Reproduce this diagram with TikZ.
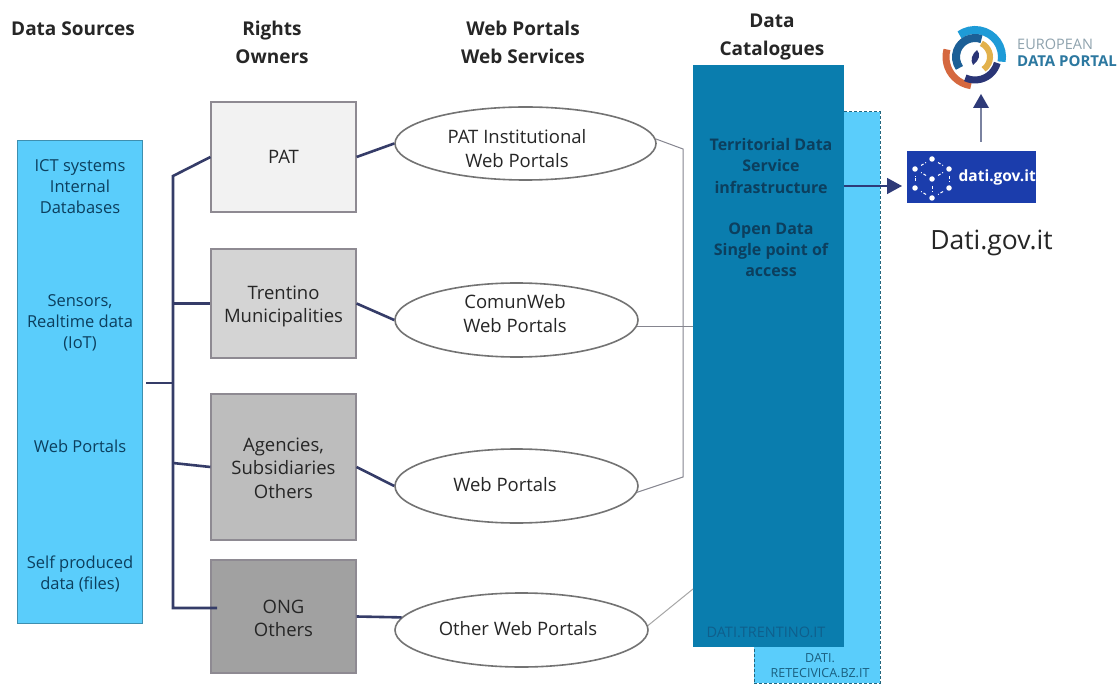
\documentclass[tikz,border=0pt]{standalone}
\usepackage{fontspec}
\setmainfont{Open Sans}
\usetikzlibrary{shapes.geometric,arrows.meta}
\definecolor{bus}{HTML}{353C68}
\definecolor{lightb}{HTML}{5ACDFB}
\definecolor{lightbd}{HTML}{3E8FAF}
\definecolor{dashc}{HTML}{22677F}
\definecolor{deepb}{HTML}{0A7DAE}
\definecolor{txtb}{HTML}{0C3F5E}
\definecolor{txtc}{HTML}{0F5F8C}
\definecolor{txtl}{HTML}{1A5F80}
\definecolor{txtd}{HTML}{262626}
\definecolor{thin}{HTML}{85858F}
\definecolor{arrowc}{HTML}{2E3A78}
\definecolor{arrowg}{HTML}{7A82A0}
\definecolor{oa}{HTML}{F2F2F2}
\definecolor{ob}{HTML}{D4D4D4}
\definecolor{oc}{HTML}{BDBDBD}
\definecolor{od}{HTML}{A1A1A1}
\definecolor{oedge}{HTML}{8E8A92}
\definecolor{ringa}{HTML}{1E9BD7}
\definecolor{ringb}{HTML}{D5683F}
\definecolor{ringc}{HTML}{1C5F96}
\definecolor{ringd}{HTML}{E2B14C}
\definecolor{ringe}{HTML}{2A3576}
\definecolor{datib}{HTML}{1B3DAC}
\definecolor{lgi}{HTML}{8FA3AE}
\definecolor{lgj}{HTML}{2C78A0}
\newcommand{\fs}[2]{\fontsize{#1}{#2}\selectfont}
\newcommand{\logoarc}[5]{\draw[#1,line width=#2pt] ({975+#3*cos(#4)},{57-#3*sin(#4)}) arc[start angle=#4,end angle=#5,radius=#3pt];}
\tikzset{
 head/.style={font=\fs{19}{28}\bfseries,text=txtd,align=center,inner sep=0pt},
 owner/.style={draw=oedge,line width=1.2pt,minimum width=145pt,anchor=center,inner sep=0pt,align=center,font=\fs{18.5}{23.5},text=txtd,fill=#1},
 ownertext/.style={font=\fs{18.5}{23.5},text=txtd,align=center,inner sep=0pt},
 portal/.style={ellipse,draw=black!55,line width=1.6pt,fill=white,inner sep=0pt},
 ptext/.style={font=\fs{18.5}{24},text=txtd,align=center,inner sep=0pt},
 srctext/.style={font=\fs{16.5}{21},text=txtb,align=center,inner sep=0pt},
 cattext/.style={text=txtb,align=center,inner sep=0pt},
 busline/.style={draw=bus,line width=2.6pt},
 thinline/.style={draw=thin,line width=1pt},
 dot/.style={circle,fill=white,inner sep=0pt,minimum size=5.5pt},
 arrowline/.style={draw=arrowc,line width=1.4pt},
}
\begin{document}
\begin{tikzpicture}[x=1pt,y=-1pt,line join=miter]
\useasboundingbox (0,0) rectangle (1118,684);
\fill[white] (0,0) rectangle (1118,684);
% headers
\node[head] (h1) at (73,29) {Data Sources};
\node[head] (h2) at (272,42) {Rights\\Owners};
\node[head] (h3) at (523,42) {Web Portals\\Web Services};
\node[head] (h4) at (772,37) {Data\\Catalogues};
% source box
\node[draw=lightbd,line width=1pt,fill=lightb,minimum width=125pt,minimum height=482pt,inner sep=0pt] (src) at (79.5,382) {};
\node[srctext] (s1) at (80,187) {ICT systems\\Internal\\Databases};
\node[srctext] (s2) at (80,323) {Sensors,\\Realtime data\\(IoT)};
\node[srctext] (s3) at (80,446) {Web Portals};
\node[srctext] (s4) at (80,574) {Self produced\\data (files)};
% owners
\node[owner=oa,minimum height=110pt] (o1) at (283.5,157) {PAT};
\node[owner=ob,minimum height=109pt] (o2) at (283.5,303.5) {};
\node[owner=oc,minimum height=146pt] (o3) at (283.5,467) {};
\node[owner=od,minimum height=113pt] (o4) at (283.5,616.5) {};
\node[ownertext] (ot2) at (283.5,306.5) {Trentino\\Municipalities};
\node[ownertext] (ot3) at (283.5,468) {Agencies,\\Subsidiaries\\Others};
\node[ownertext] (ot4) at (283.5,618.5) {ONG\\Others};
% portals
\node[portal,minimum width=261pt,minimum height=73pt] (e1) at (525.5,143.5) {};
\node[portal,minimum width=243pt,minimum height=74pt] (e2) at (516.5,320) {};
\node[portal,minimum width=243pt,minimum height=74pt] (e3) at (516.5,486) {};
\node[portal,minimum width=253pt,minimum height=74pt] (e4) at (521.5,630) {};
\node[ptext] (t1) at (517,149) {PAT Institutional\\Web Portals};
\node[ptext] (t2) at (515,314) {ComunWeb\\Web Portals};
\node[ptext] (t3) at (505,485) {Web Portals};
\node[ptext] (t4) at (518,629) {Other Web Portals};
% catalogue boxes
\node[draw=dashc,line width=1pt,dash pattern=on 3pt off 2pt,fill=lightb,minimum width=126pt,minimum height=571pt,inner sep=0pt] (back) at (817,397.5) {};
\node[fill=deepb,minimum width=151pt,minimum height=582pt,inner sep=0pt] (cat) at (768.5,356) {};
\node[cattext,font=\fs{16}{21.5}\bfseries] (c1) at (771,166) {Territorial Data\\Service\\infrastructure};
\node[cattext,font=\fs{16}{21}\bfseries] (c2) at (771,250) {Open Data\\Single point of\\access};
\node[font=\fs{14.5}{15},text=txtc,inner sep=0pt] (c3) at (766,632) {DATI.TRENTINO.IT};
\node[font=\fs{12.5}{15},text=txtl,align=center,inner sep=0pt] (c4) at (820,666) {DATI.\\RETECIVICA.BZ.IT};
% dati.gov.it
\node[fill=datib,minimum width=129pt,minimum height=52pt,inner sep=0pt] (dati) at (971.5,177) {};
\node[font=\fs{15.5}{16}\bfseries,text=white,inner sep=0pt,anchor=east] (datit) at (1036,177) {dati.gov.it};
\node[dot] (d0) at (932,179) {};
\node[dot] (d1) at (932,159) {};
\node[dot] (d2) at (949,169) {};
\node[dot] (d3) at (949,188) {};
\node[dot] (d4) at (932,198) {};
\node[dot] (d5) at (915,188) {};
\node[dot] (d6) at (915,169) {};
\foreach \a/\b in {d1/d2,d2/d3,d3/d4,d4/d5,d5/d6,d6/d1,d0/d2,d0/d4,d0/d6}
  \draw[white,line width=1pt,dash pattern=on 3pt off 2pt,shorten >=4pt,shorten <=4pt] (\a) -- (\b);
\node[font=\fs{26.5}{27},text=txtd,inner sep=0pt] (gov) at (991.5,243) {Dati.gov.it};
% logo
\logoarc{ringa}{8}{27}{-10}{125}
\logoarc{ringb}{7}{29}{165}{262}
\logoarc{ringc}{8}{19}{70}{215}
\logoarc{ringd}{6}{15}{65}{-55}
\logoarc{ringe}{7}{23}{-15}{-115}
\fill[ringe] (977,50) .. controls (981,54) and (979,61) .. (973,65) .. controls (970,60) and (972,54) .. (977,50) -- cycle;
\node[font=\fs{14.5}{15},text=lgi,anchor=west,inner sep=0pt] (lg1) at (1017,44.5) {EUROPEAN};
\node[font=\fs{15}{15}\bfseries,text=lgj,anchor=west,inner sep=0pt] (lg2) at (1017,61) {DATA PORTAL};
\coordinate (logoa) at (981,94);
% connectors
\coordinate (j0) at (173,383);
\coordinate (j1) at (173,176);
\coordinate (j2) at (173,303.5);
\coordinate (j3) at (173,463);
\coordinate (j4) at (173,608);
\coordinate (j5) at (217,608);
\coordinate (r1) at (683,149);
\coordinate (r2) at (683,477);
\coordinate (s0) at (146,383);
\draw[busline] (s0) -- (j0);
\draw[busline] (o1.west) -- (j1) -- (j4) -- (j5);
\draw[busline] (j2) -- (o2.west);
\draw[busline] (j3) -- (o3.west);
\draw[busline] (o1.east) -- (e1.west);
\draw[busline] (o2.east) -- (e2.west);
\draw[busline] (o3.east) -- (e3.west);
\draw[busline] (o4.east) -- (e4.174);
\draw[thinline] (e1.2) -- (r1) -- (r2) -- (e3.-3);
\draw[thinline] (e2.-3) -- (cat.west |- e2.-3);
\coordinate (cj) at (693,589);
\draw[thinline,black!35] (e4.2) -- (cj);
\coordinate (ca) at (844,186);
\coordinate (da) at (902,186);
\draw[arrowline,-{Triangle[length=15pt,width=16pt]}] (ca) -- (da);
\coordinate (db) at (981,142);
\coordinate (dc) at (981,108);
\draw[line width=1.4pt,draw=arrowg] (db) -- (dc);
\fill[arrowc] (logoa) -- (989,108) -- (973,108) -- cycle;
\end{tikzpicture}
\end{document}
